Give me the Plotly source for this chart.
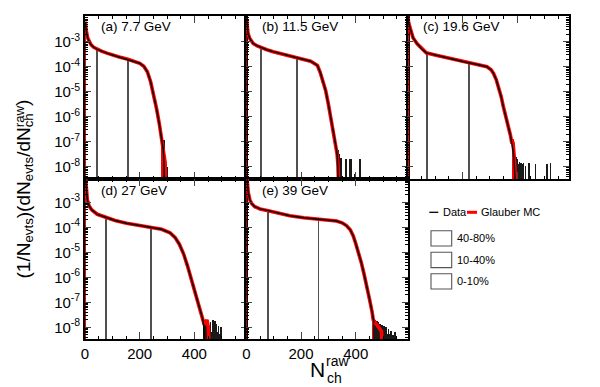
import plotly.graph_objects as go

# ---------------- data ----------------
panel_labels = ["(a) 7.7 GeV", "(b) 11.5 GeV", "(c) 19.6 GeV", "(d) 27 GeV", "(e) 39 GeV"]

# (a) 7.7 GeV : shared body of data and Glauber MC, then the separate ends
n_a = [1, 3, 6, 10, 15, 22, 32, 45, 60, 80, 100, 125, 157, 180, 200, 215, 228, 240, 252, 262, 272, 280, 286]
body_a = [6.3e-3, 3.55e-3, 2.24e-3, 1.41e-3, 1.0e-3, 7.6e-4, 6.0e-4, 5.0e-4, 4.2e-4, 3.5e-4, 2.95e-4,
          2.45e-4, 2.0e-4, 1.7e-4, 1.38e-4, 1.05e-4, 6.3e-5, 2.5e-5, 7.1e-6, 2.0e-6, 5.0e-7, 1.41e-7, 5.0e-8]
dat_end_n_a = [289, 291]
dat_end_a = [1.5e-8, 2.5e-9]
glb_end_n_a = [289, 293, 295]
glb_end_a = [3.0e-8, 1.5e-8, 2.5e-9]
glb_first_a = 6.3e-3
glb_tail_n_a = [283, 287, 291]
glb_tail_a = [8.7e-8, 5.0e-8, 2.2e-8]
dat_tail_n_a = [289, 301]
dat_tail_a = [1.17e-7, 1.0e-8]
cut_n_a = [45, 157]
cut_a = [5.0e-4, 2.0e-4]

# (b) 11.5 GeV
n_b = [1, 3, 6, 12, 25, 40, 55, 75, 98, 125, 147, 170, 186, 205, 220, 235, 250, 260, 270, 280, 290, 300,
       311, 320, 328]
body_b = [7.9e-3, 4.0e-3, 2.24e-3, 1.38e-3, 8.5e-4, 6.8e-4, 5.75e-4, 4.8e-4, 4.0e-4, 3.4e-4, 2.95e-4,
          2.5e-4, 2.3e-4, 2.1e-4, 1.9e-4, 1.66e-4, 1.32e-4, 1.12e-4, 6.0e-5, 2.8e-5, 1.12e-5, 3.2e-6,
          7.4e-7, 2.24e-7, 6.3e-8]
dat_end_n_b = [333, 336]
dat_end_b = [2.5e-8, 2.5e-9]
glb_end_n_b = [332, 335, 337]
glb_end_b = [3.2e-8, 1.2e-8, 2.5e-9]
glb_first_b = 8.7e-3
glb_tail_n_b = []
glb_tail_b = []
dat_tail_n_b = [337, 339, 341, 344, 347, 350, 366, 378, 384, 399, 417]
dat_tail_b = [4.5e-8, 2.5e-8, 3.2e-8, 2.0e-8, 2.2e-8, 2.0e-8, 2.0e-8, 2.0e-8, 2.0e-8, 5.0e-9, 2.0e-8]
cut_n_b = [55.5, 186]
cut_b = [5.75e-4, 2.3e-4]

# (c) 19.6 GeV
n_c = [1, 3, 9, 20, 34, 50, 68, 100, 131, 160, 190, 222, 250, 270, 290, 305, 314, 324, 332, 342, 350,
       360, 369, 376, 381]
body_c = [1.0e-2, 6.3e-3, 3.5e-3, 1.41e-3, 8.5e-4, 5.4e-4, 3.6e-4, 2.95e-4, 2.5e-4, 2.14e-4, 1.78e-4,
          1.45e-4, 1.26e-4, 1.12e-4, 1.0e-4, 7.6e-5, 5.4e-5, 3.0e-5, 1.58e-5, 6.3e-6, 2.5e-6, 1.0e-6,
          4.0e-7, 1.78e-7, 8.5e-8]
dat_end_n_c = [386, 390, 393]
dat_end_c = [4.0e-8, 1.2e-8, 2.5e-9]
glb_end_n_c = [385, 389, 393, 395]
glb_end_c = [1.0e-7, 3.2e-8, 1.0e-8, 2.5e-9]
glb_first_c = 1.0e-2
glb_tail_n_c = [384, 387]
glb_tail_c = [1.26e-7, 8.0e-8]
dat_tail_n_c = [395, 398, 401, 404, 407, 410, 413, 417, 423, 429, 442, 466, 509, 521]
dat_tail_c = [2.5e-8, 1.4e-8, 2.0e-8, 1.26e-8, 1.58e-8, 1.1e-8, 1.4e-8, 1.26e-8, 1.4e-8, 1.12e-8, 1.4e-8,
              1.26e-8, 1.26e-8, 1.45e-8]
cut_n_c = [68, 222]
cut_c = [3.6e-4, 1.45e-4]

# (d) 27 GeV
n_d = [1, 4, 8.5, 15, 25, 45, 77, 110, 152, 200, 241, 280, 311, 330, 345, 360, 375, 390, 405, 418, 430]
body_d = [1.26e-2, 3.2e-3, 1.26e-3, 7.1e-4, 4.9e-4, 3.3e-4, 2.4e-4, 1.86e-4, 1.45e-4, 1.17e-4, 1.0e-4,
          8.3e-5, 6.0e-5, 3.8e-5, 2.1e-5, 8.9e-6, 2.8e-6, 7.9e-7, 2.24e-7, 6.3e-8, 2.24e-8]
dat_end_n_d = [434, 437]
dat_end_d = [1.2e-8, 2.5e-9]
glb_end_n_d = [435, 440, 446, 451, 453]
glb_end_d = [1.4e-8, 1.4e-8, 2.0e-8, 1.0e-8, 2.5e-9]
glb_first_d = 1.5e-2
glb_tail_n_d = [442, 446]
glb_tail_d = [1.6e-8, 2.0e-8]
dat_tail_n_d = [436, 439, 442, 445, 449, 452, 455, 459, 462, 466, 469, 472, 475, 478, 481, 485, 489, 493, 497]
dat_tail_d = [1.8e-8, 1.0e-8, 1.6e-8, 1.26e-8, 7.9e-9, 1.4e-8, 1.0e-8, 1.58e-8, 6.3e-9, 1.26e-8, 2.0e-8,
              8.9e-9, 1.8e-8, 1.0e-8, 1.4e-8, 6.3e-9, 1.12e-8, 5.6e-9, 1.0e-8]
cut_n_d = [77, 241]
cut_d = [2.4e-4, 1.0e-4]

# (e) 39 GeV
n_e = [1, 3, 7, 13, 20, 31, 50, 80, 120, 159, 210, 265, 300, 330, 350, 366, 380, 391, 400, 410, 420, 430,
       440, 450, 460]
body_e = [1.26e-2, 5.75e-3, 2.5e-3, 1.23e-3, 8.7e-4, 6.6e-4, 5.4e-4, 4.6e-4, 3.55e-4, 2.9e-4, 2.4e-4,
          2.1e-4, 1.95e-4, 1.78e-4, 1.51e-4, 1.17e-4, 7.9e-5, 4.5e-5, 2.24e-5, 1.0e-5, 4.0e-6, 1.41e-6,
          5.0e-7, 1.41e-7, 4.0e-8]
dat_end_n_e = [464, 467]
dat_end_e = [2.5e-8, 1.5e-8]
glb_end_n_e = [464, 494, 496]
glb_end_e = [2.0e-8, 7.0e-9, 2.5e-9]
glb_first_e = 1.5e-2
glb_tail_n_e = [465, 469, 473, 477, 481, 485, 489, 493]
glb_tail_e = [2.0e-8, 1.58e-8, 1.26e-8, 1.58e-8, 1.26e-8, 1.0e-8, 7.9e-9, 6.3e-9]
dat_tail_n_e = [467, 470, 473, 476, 479, 482, 485, 488, 491, 494, 497, 500, 504, 508, 512, 516, 521, 526,
                531, 537, 544]
dat_tail_e = [2.5e-8, 1.6e-8, 2.0e-8, 1.26e-8, 1.78e-8, 1.1e-8, 1.58e-8, 1.0e-8, 1.41e-8, 8.0e-9, 1.2e-8,
              7.1e-9, 1.1e-8, 6.3e-9, 1.0e-8, 5.6e-9, 8.9e-9, 5.6e-9, 7.1e-9, 5.0e-9, 6.3e-9]
cut_n_e = [80, 265]
cut_e = [4.6e-4, 2.1e-4]

legend_ranges = ["40-80%", "10-40%", "0-10%"]
x_tick_vals = [0, 200, 400]
y_tick_vals = [1e-8, 1e-7, 1e-6, 1e-5, 1e-4, 1e-3]
y_tick_text = ["10<sup>-8</sup>", "10<sup>-7</sup>", "10<sup>-6</sup>", "10<sup>-5</sup>",
               "10<sup>-4</sup>", "10<sup>-3</sup>"]

panels = [
    (n_a, body_a, dat_end_n_a, dat_end_a, glb_end_n_a, glb_end_a, glb_first_a, glb_tail_n_a, glb_tail_a,
     dat_tail_n_a, dat_tail_a, cut_n_a, cut_a),
    (n_b, body_b, dat_end_n_b, dat_end_b, glb_end_n_b, glb_end_b, glb_first_b, glb_tail_n_b, glb_tail_b,
     dat_tail_n_b, dat_tail_b, cut_n_b, cut_b),
    (n_c, body_c, dat_end_n_c, dat_end_c, glb_end_n_c, glb_end_c, glb_first_c, glb_tail_n_c, glb_tail_c,
     dat_tail_n_c, dat_tail_c, cut_n_c, cut_c),
    (n_d, body_d, dat_end_n_d, dat_end_d, glb_end_n_d, glb_end_d, glb_first_d, glb_tail_n_d, glb_tail_d,
     dat_tail_n_d, dat_tail_d, cut_n_d, cut_d),
    (n_e, body_e, dat_end_n_e, dat_end_e, glb_end_n_e, glb_end_e, glb_first_e, glb_tail_n_e, glb_tail_e,
     dat_tail_n_e, dat_tail_e, cut_n_e, cut_e),
]

# ---------------- layout geometry ----------------
W, H = 600, 387
ML, MR, MT, MB = 85, 31, 16, 48
PW = W - ML - MR
PH = H - MT - MB
split = 160 / PH
RED = "#ff0000"
FONT = "Liberation Sans, Arial, sans-serif"


def px(x):
    return (x - ML) / PW


def py(y):
    return (H - MB - y) / PH


fig = go.Figure()

for k, (n, body, den, de, gen, ge, g0, gtn, gt, dtn, dt, cn, cv) in enumerate(panels):
    xa, ya = f"x{k + 1}", f"y{k + 1}"
    fig.add_trace(go.Bar(x=cn, y=cv, width=3.2, marker=dict(color="#505050", line=dict(width=0)),
                         xaxis=xa, yaxis=ya))
    fig.add_trace(go.Bar(x=[n[0]], y=[g0], width=7, marker=dict(color=RED, line=dict(width=0)),
                         xaxis=xa, yaxis=ya))
    if gtn:
        fig.add_trace(go.Bar(x=gtn, y=gt, width=3.6, marker=dict(color=RED, line=dict(width=0)),
                             xaxis=xa, yaxis=ya))
    fig.add_trace(go.Scatter(x=n + gen, y=body + ge, mode="lines", line=dict(color=RED, width=3.6),
                             xaxis=xa, yaxis=ya))
    fig.add_trace(go.Bar(x=dtn, y=dt, width=2.0, marker=dict(color="#1a1a1a", line=dict(width=0)),
                         xaxis=xa, yaxis=ya))
    fig.add_trace(go.Scatter(x=n + den, y=body + de, mode="lines", line=dict(color="black", width=1.4),
                             xaxis=xa, yaxis=ya))

minor_y = [m * 10.0 ** e for e in range(-9, -1) for m in range(2, 10)]

layout = dict(
    width=W, height=H, autosize=False,
    margin=dict(l=ML, r=MR, t=MT, b=MB),
    paper_bgcolor="white", plot_bgcolor="white",
    showlegend=False, barmode="overlay", bargap=0,
    font=dict(family=FONT, color="black"),
)
for k in range(6):
    row, col = divmod(k, 3)
    xd = [col / 3, (col + 1) / 3]
    yd = [split, 1] if row == 0 else [0, split]
    yr = [-8.49, -1.97] if row == 0 else [-8.47, -2.07]
    layout[f"xaxis{k + 1}"] = dict(
        domain=xd, anchor=f"y{k + 1}", range=[0, 590], tickmode="array", tickvals=x_tick_vals,
        showticklabels=(row == 1), tickfont=dict(size=15), ticks="inside", ticklen=7,
        tickwidth=1, showline=True, linecolor="black", linewidth=1.6, mirror="allticks",
        showgrid=False, zeroline=False, automargin=False,
        minor=dict(dtick=50, tick0=0, ticks="inside", ticklen=3.5, tickwidth=1, tickcolor="black",
                   showgrid=False),
    )
    layout[f"yaxis{k + 1}"] = dict(
        domain=yd, anchor=f"x{k + 1}", type="log", range=yr, tickmode="array",
        tickvals=y_tick_vals, ticktext=y_tick_text, showticklabels=(col == 0),
        tickfont=dict(size=15), ticks="inside", ticklen=6, tickwidth=1, showline=True,
        linecolor="black", linewidth=1.6, mirror="allticks", showgrid=False, zeroline=False,
        automargin=False,
        minor=dict(tickvals=minor_y, ticks="inside", ticklen=3, tickwidth=1, tickcolor="black",
                   showgrid=False),
    )
fig.update_layout(**layout)

ann = []
for k, lab in enumerate(panel_labels):
    row, col = divmod(k, 3)
    ann.append(dict(text=lab, xref="paper", yref="paper", x=px(ML + col * PW / 3 + 13.5),
                    y=py(26.7 if row == 0 else 190), xanchor="left", yanchor="middle",
                    showarrow=False, font=dict(size=13.5)))

# y-axis title: pieces so that "raw" sits above "ch" as in the reference
YF = 19
common = dict(xref="paper", yref="paper", textangle=-90, showarrow=False, borderpad=0, borderwidth=0)
ann.append(dict(text="(1/N<sub>evts</sub>)(dN<sub>evts</sub>/dN<sub>ch</sub>", x=px(12),
                y=py(279), xanchor="left", yanchor="bottom", font=dict(size=YF), **common))
ann.append(dict(text="raw", x=px(12), y=py(127.8), xanchor="left", yanchor="bottom",
                font=dict(size=13.3), **common))
ann.append(dict(text=")", x=px(12), y=py(106.4), xanchor="left", yanchor="bottom",
                font=dict(size=YF), **common))

# x-axis title
ann.append(dict(text="N", xref="paper", yref="paper", x=px(325.5), y=py(369), xanchor="right",
                yanchor="middle", showarrow=False, font=dict(size=21), borderpad=0))
ann.append(dict(text="raw", xref="paper", yref="paper", x=px(325), y=py(361), xanchor="left",
                yanchor="middle", showarrow=False, font=dict(size=14), borderpad=0))
ann.append(dict(text="ch", xref="paper", yref="paper", x=px(325.5), y=py(378), xanchor="left",
                yanchor="middle", showarrow=False, font=dict(size=14), borderpad=0))

# legend in panel (f)
shapes = [
    dict(type="line", xref="paper", yref="paper", x0=px(429.3), x1=px(438.3), y0=py(212.3), y1=py(212.3),
         line=dict(color="black", width=1.3)),
    dict(type="line", xref="paper", yref="paper", x0=px(467), x1=px(477), y0=py(212.3), y1=py(212.3),
         line=dict(color=RED, width=3)),
]
ann.append(dict(text="Data", xref="paper", yref="paper", x=px(440.5), y=py(212.3), xanchor="left",
                yanchor="middle", showarrow=False, font=dict(size=11)))
ann.append(dict(text="Glauber MC", xref="paper", yref="paper", x=px(479.2), y=py(212.3), xanchor="left",
                yanchor="middle", showarrow=False, font=dict(size=11)))
box_tops = [230.7, 252.3, 273.7]
for lab, yt in zip(legend_ranges, box_tops):
    shapes.append(dict(type="rect", xref="paper", yref="paper", x0=px(431), x1=px(451.7),
                       y0=py(yt + 15.3), y1=py(yt), line=dict(color="#555555", width=1.1),
                       fillcolor="white"))
    ann.append(dict(text=lab, xref="paper", yref="paper", x=px(454.5), y=py(yt + 7.7), xanchor="left",
                    yanchor="middle", showarrow=False, font=dict(size=11)))

fig.update_layout(annotations=ann, shapes=shapes)
fig.write_html("out.html", config={"displayModeBar": False},
               post_script="document.body.style.margin='0';document.body.style.overflow='hidden';")
